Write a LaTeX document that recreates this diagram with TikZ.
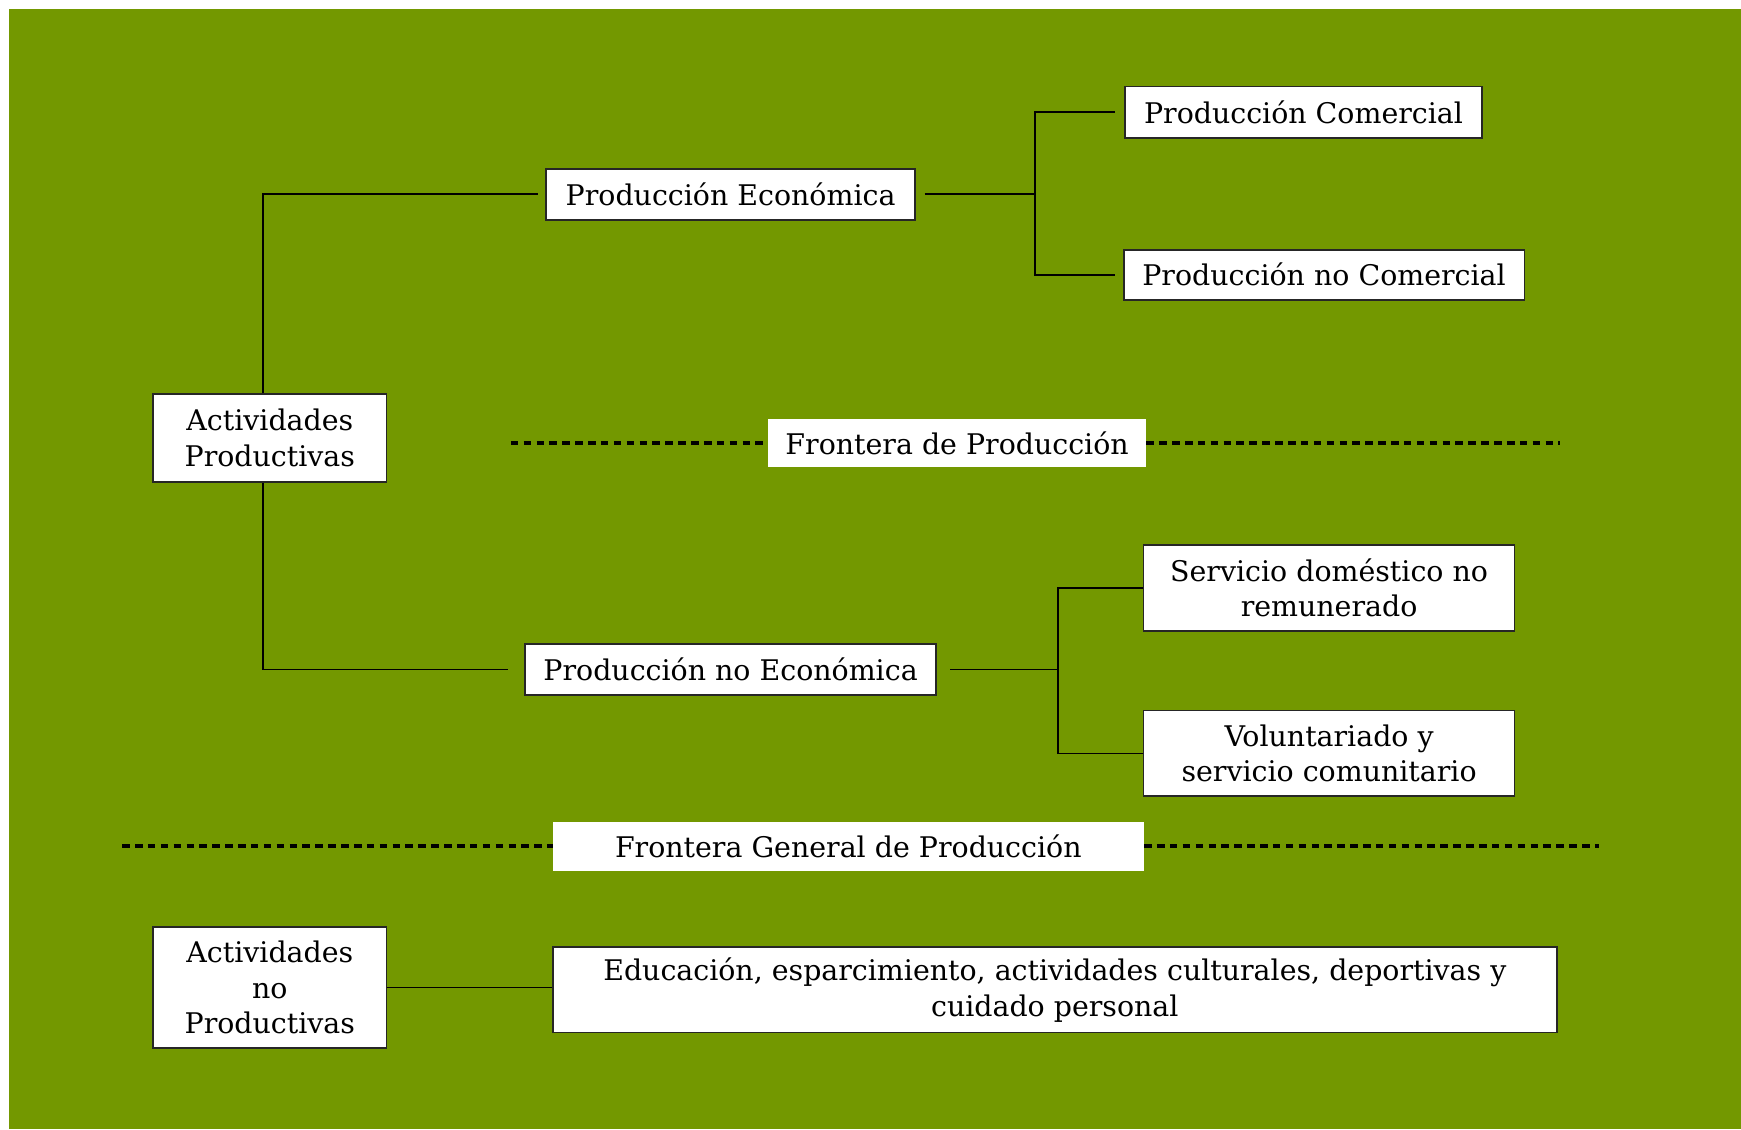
\documentclass[tikz,border=0pt]{standalone}
\usepackage{fontspec}
\setmainfont{DejaVu Serif}
\usetikzlibrary{calc}
\definecolor{verde}{RGB}{115,152,0}

\tikzset{
  caja/.style={draw=black!85,fill=white,line width=0.75pt,inner sep=0pt,align=center,
    font=\fontsize{12.8}{16}\selectfont},
  frontera/.style={fill=white,inner sep=0pt,font=\fontsize{12.8}{16}\selectfont},
  rama/.style={line width=0.75pt},
  corte/.style={line width=1.45pt,dash pattern=on 3.4pt off 2.4pt}
}

\begin{document}
\begin{tikzpicture}[x=0.5pt,y=-0.5pt]
\fill[white] (0,0) rectangle (1568,1017);
\fill[verde] (8,8) rectangle (1568,1017);

%actividades productivas
\node[caja,minimum width=105pt,minimum height=39.5pt] (ap) at (243,394.5) {Actividades\\Productivas};

%rama economica
\node[caja,minimum width=166pt,minimum height=23pt] (pe) at (658,175) {Producción Económica};
\node[caja,minimum width=161pt,minimum height=23pt] (pc) at (1174,101) {Producción Comercial};
\node[caja,minimum width=180.5pt,minimum height=22.5pt] (pnc) at (1192.5,247.5) {Producción no Comercial};
\coordinate (jpe) at (932,175);
\draw[rama] ([xshift=-3pt]ap.north) |- ([xshift=-3.5pt]pe.west);
\draw[rama] ([xshift=4pt]pe.east) -- (jpe);
\draw[rama] ([xshift=-4pt]pc.west) -| (jpe) |- ([xshift=-3.5pt]pnc.west);

%frontera de produccion
\node[frontera,minimum width=170pt,minimum height=22pt] (fp) at (862,399) {Frontera de Producción};
\coordinate (fp-a) at (460,399);
\coordinate (fp-b) at (1405,399);
\draw[corte] (fp-a) -- (fp.west);
\draw[corte] (fp.east) -- (fp-b);

%rama no economica
\node[caja,minimum width=185pt,minimum height=23pt] (pne) at (658,603) {Producción no Económica};
\node[caja,minimum width=167pt,minimum height=38.5pt] (sd) at (1197,529.5) {Servicio doméstico no\\remunerado};
\node[caja,minimum width=167pt,minimum height=38.5pt] (vs) at (1197,678.5) {Voluntariado y\\servicio comunitario};
\coordinate (jpne) at (953,603);
\draw[rama] ([xshift=-3pt]ap.south) |- ([xshift=-7.5pt]pne.west);
\draw[rama] ([xshift=6pt]pne.east) -- (jpne);
\draw[rama] (sd.west) -| (jpne) |- (vs.west);

%frontera general
\node[frontera,minimum width=266pt,minimum height=22pt] (fg) at (764,762) {Frontera General de Producción};
\coordinate (fg-a) at (110,762);
\coordinate (fg-b) at (1440,762);
\draw[corte] (fg-a) -- (fg.west);
\draw[corte] (fg.east) -- (fg-b);

%actividades no productivas
\node[caja,minimum width=105pt,minimum height=54.5pt] (anp) at (243,889.5) {Actividades\\no\\Productivas};
\node[caja,minimum width=452pt,minimum height=38.5pt] (ed) at (950,891.5) {Educación, esparcimiento, actividades culturales, deportivas y\\cuidado personal};
\draw[rama] (anp) -- (anp -| ed.west);

\end{tikzpicture}
\end{document}
